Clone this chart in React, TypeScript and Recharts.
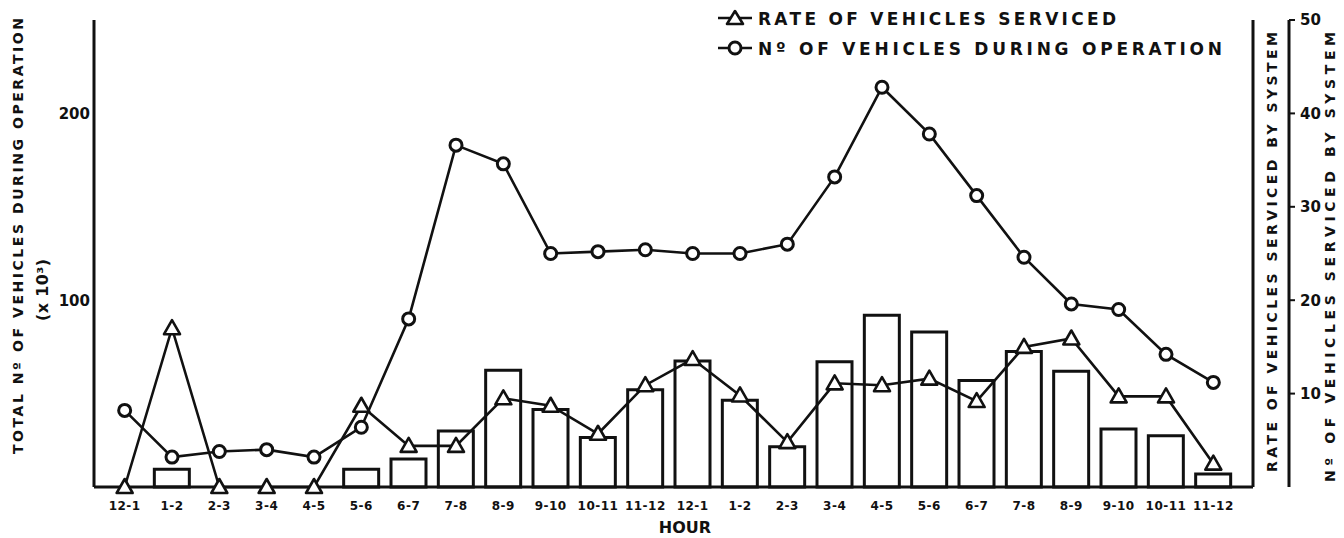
import React from "react";
import { ComposedChart, Bar, Line, XAxis, YAxis } from "recharts";

// hour of day (two halves of a 24h day)
const hours = [
  "12-1", "1-2", "2-3", "3-4", "4-5", "5-6", "6-7", "7-8", "8-9", "9-10", "10-11", "11-12",
  "12-1 ", "1-2 ", "2-3 ", "3-4 ", "4-5 ", "5-6 ", "6-7 ", "7-8 ", "8-9 ", "9-10 ", "10-11 ", "11-12 ",
];

// total no. of vehicles during operation (x 10^3), left axis
const vehiclesDuringOperation = [
  41, 16, 19, 20, 16, 32, 90, 183, 173, 125, 126, 127,
  125, 125, 130, 166, 214, 189, 156, 123, 98, 95, 71, 56,
];

// rate of vehicles serviced by system, inner right axis
const rateServiced = [
  0, 17.0, 0, 0, 0, 8.7, 4.4, 4.4, 9.5, 8.7, 5.7, 10.9,
  13.7, 9.8, 4.8, 11.1, 10.9, 11.6, 9.2, 15.0, 15.9, 9.7, 9.7, 2.5,
];

// no. of vehicles serviced by system (bars), outer right axis
const vehiclesServiced = [
  0, 1.9, 0, 0, 0, 1.9, 3.0, 6.0, 12.5, 8.3, 5.3, 10.4,
  13.5, 9.3, 4.3, 13.4, 18.4, 16.6, 11.4, 14.5, 12.4, 6.2, 5.5, 1.4,
];

const leftTicks = [100, 200];
const rightTicks = [10, 20, 30, 40, 50];

const data = hours.map((hour, i) => ({
  hour,
  total: vehiclesDuringOperation[i],
  rate: rateServiced[i],
  serviced: vehiclesServiced[i],
}));

const INK = "#111";
const FONT = "'DejaVu Sans', sans-serif";

const TriangleDot = (props: any) => {
  const { cx, cy, index } = props;
  if (cx == null || cy == null) return null;
  const s = 8;
  return (
    <path
      key={`tri-${index}`}
      d={`M${cx},${cy - s} L${cx + s},${cy + s * 0.75} L${cx - s},${cy + s * 0.75} Z`}
      fill="#fff"
      stroke={INK}
      strokeWidth={2.6}
      strokeLinejoin="round"
    />
  );
};

const CircleDot = (props: any) => {
  const { cx, cy, index } = props;
  if (cx == null || cy == null) return null;
  return <circle key={`cir-${index}`} cx={cx} cy={cy} r={6} fill="#fff" stroke={INK} strokeWidth={3} />;
};

const tickStyle = { fontFamily: FONT, fontWeight: 700, fontSize: 14, fill: INK };

export default function App() {
  return (
    <div style={{ position: "absolute", left: 0, top: 0, width: 1344, height: 538, background: "#fff" }}>
      <ComposedChart
        width={1344}
        height={538}
        data={data}
        margin={{ top: 20, right: 0, left: 54, bottom: 21 }}
      >
        <XAxis
          dataKey="hour"
          height={30}
          padding={{ left: 7, right: 16 }}
          axisLine={{ stroke: INK, strokeWidth: 3 }}
          tickLine={false}
          tickMargin={8}
          interval={0}
          tick={{ ...tickStyle, fontSize: 12, letterSpacing: 0.5 }}
          tickFormatter={(v: string) => v.trim()}
        />
        <YAxis
          yAxisId="total"
          orientation="left"
          width={40}
          domain={[0, 250]}
          ticks={leftTicks}
          axisLine={{ stroke: INK, strokeWidth: 3 }}
          tickLine={false}
          tickSize={0}
          tickMargin={4}
          tick={{ ...tickStyle, fontSize: 15 }}
        />
        <YAxis
          yAxisId="r1rate"
          orientation="right"
          width={36}
          domain={[0, 50]}
          tick={false}
          tickLine={false}
          axisLine={{ stroke: INK, strokeWidth: 3 }}
        />
        <YAxis
          yAxisId="r2num"
          orientation="right"
          width={55}
          domain={[0, 50]}
          ticks={rightTicks}
          axisLine={{ stroke: INK, strokeWidth: 3 }}
          tickLine={{ stroke: INK, strokeWidth: 2 }}
          tickSize={6}
          tickMargin={5}
          tick={{ ...tickStyle, fontSize: 15 }}
        />
        <Bar
          yAxisId="r2num"
          dataKey="serviced"
          barSize={35}
          fill="#fff"
          stroke={INK}
          strokeWidth={3}
          isAnimationActive={false}
        />
        <Line
          yAxisId="total"
          type="linear"
          dataKey="total"
          stroke={INK}
          strokeWidth={2.6}
          dot={CircleDot}
          activeDot={false}
          isAnimationActive={false}
        />
        <Line
          yAxisId="r1rate"
          type="linear"
          dataKey="rate"
          stroke={INK}
          strokeWidth={2.6}
          dot={TriangleDot}
          activeDot={false}
          isAnimationActive={false}
        />
      </ComposedChart>

      <svg
        width={1344}
        height={538}
        style={{ position: "absolute", left: 0, top: 0, pointerEvents: "none" }}
        fontFamily={FONT}
        fontWeight={700}
        fill={INK}
      >
        {/* axis titles */}
        <text transform="translate(23,236) rotate(-90)" textAnchor="middle" fontSize={14} textLength={436} lengthAdjust="spacing">
          TOTAL Nº OF VEHICLES DURING OPERATION
        </text>
        <text transform="translate(48,290) rotate(-90)" textAnchor="middle" fontSize={16} textLength={62} lengthAdjust="spacing">
          (x 10³)
        </text>
        <text transform="translate(1277,252) rotate(-90)" textAnchor="middle" fontSize={14} textLength={440} lengthAdjust="spacing">
          RATE OF VEHICLES SERVICED BY SYSTEM
        </text>
        <text transform="translate(1335,257) rotate(-90)" textAnchor="middle" fontSize={14} textLength={450} lengthAdjust="spacing">
          Nº OF VEHICLES SERVICED BY SYSTEM
        </text>
        <text x={685} y={533} textAnchor="middle" fontSize={16}>
          HOUR
        </text>

        {/* legend */}
        <line x1={718} y1={18} x2={752} y2={18} stroke={INK} strokeWidth={2.6} />
        <path d="M735,11 L743,24 L727,24 Z" fill="#fff" stroke={INK} strokeWidth={2.6} strokeLinejoin="round" />
        <text x={758} y={25} fontSize={17} textLength={358} lengthAdjust="spacing">
          RATE OF VEHICLES SERVICED
        </text>
        <line x1={718} y1={48} x2={752} y2={48} stroke={INK} strokeWidth={2.6} />
        <circle cx={735} cy={48} r={6} fill="#fff" stroke={INK} strokeWidth={3} />
        <text x={758} y={55} fontSize={17} textLength={464} lengthAdjust="spacing">
          Nº OF VEHICLES DURING OPERATION
        </text>
      </svg>
    </div>
  );
}
